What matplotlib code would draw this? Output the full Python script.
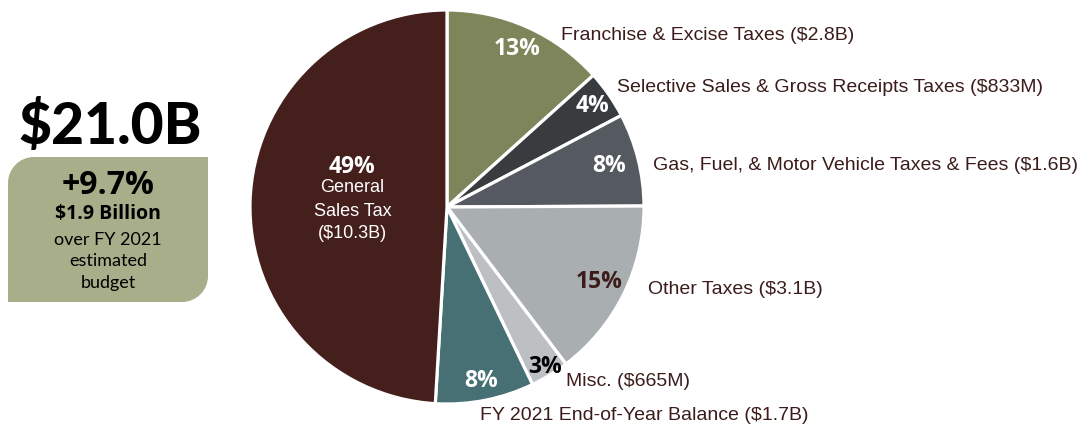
import numpy as np
import matplotlib
matplotlib.use("Agg")
import matplotlib.pyplot as plt
from matplotlib.path import Path
from matplotlib.patches import PathPatch

# Revenue sources, in billions of dollars (clockwise from 12 o'clock)
categories = [
    "Franchise & Excise Taxes",
    "Selective Sales & Gross Receipts Taxes",
    "Gas, Fuel, & Motor Vehicle Taxes & Fees",
    "Other Taxes",
    "Misc.",
    "FY 2021 End-of-Year Balance",
    "General Sales Tax",
]
values = [2.8, 0.833, 1.6, 3.1, 0.665, 1.7, 10.3]
amount_labels = ["$2.8B", "$833M", "$1.6B", "$3.1B", "$665M", "$1.7B", "$10.3B"]
colors = ["#7e855b", "#383c3f", "#545a60", "#a9aeb1", "#bcc0c3", "#467074", "#451f1c"]
pct_colors = ["white", "white", "white", "#3b1c1a", "black", "white", "white"]

total_label = "$21.0B"
growth_pct = "+9.7%"
growth_amount = "$1.9 Billion"
growth_note = ["over FY 2021", "estimated", "budget"]

W, H = 1084, 430
fig = plt.figure(figsize=(W / 100, H / 100), dpi=100)
ax = fig.add_axes([0, 0, 1, 1])

cx, cy, R = 447, 223, 197
wedges, _ = ax.pie(values, colors=colors, startangle=90, counterclock=False,
                   center=(cx, cy), radius=R, frame=False,
                   wedgeprops=dict(edgecolor="white", linewidth=2.3))
ax.set_xlim(0, W)
ax.set_ylim(0, H)
ax.set_aspect("auto")
ax.axis("off")

txt_font = ["Liberation Sans", "DejaVu Sans"]
pct_font = ["Open Sans", "DejaVu Sans"]
head_font = ["Lato", "DejaVu Sans"]
label_color = "#3b1c1a"

# Percentage labels inside each wedge
radial = [0.88, 0.90, 0.85, 0.86, 0.95, 0.90, 0.48]
total = sum(values)
for w, v, r, c in zip(wedges, values, radial, pct_colors):
    mid = np.deg2rad((w.theta1 + w.theta2) / 2)
    x = cx + r * R * np.cos(mid)
    y = cy + r * R * np.sin(mid)
    pct = f"{round(100 * v / total)}%"
    if w is wedges[-1]:
        y += 37
    ax.text(x, y, pct, color=c, fontsize=16.5, fontweight="bold",
            family=pct_font, ha="center", va="center")

# Largest slice carries its name inside
gx = cx + radial[-1] * R * np.cos(np.deg2rad((wedges[-1].theta1 + wedges[-1].theta2) / 2))
for i, line in enumerate(["General", "Sales Tax", f"({amount_labels[-1]})"]):
    ax.text(gx, 242 - i * 23, line, color="white", fontsize=13,
            family=txt_font, ha="center", va="center")

# Outside labels
outside_pos = [(561, 394), (617, 342), (653, 265), (648, 140), (566, 49), (480, 14)]
for name, amt, (x, y) in zip(categories[:-1], amount_labels[:-1], outside_pos):
    ax.text(x, y, f"{name} ({amt})", color=label_color, fontsize=14,
            family=txt_font, ha="left", va="center")

# Headline total
ax.text(110, 303, total_label, color="black", fontsize=41, fontweight="black",
        family=head_font, ha="center", va="center")

# Growth callout box: rounded top-left and bottom-right corners
x0, x1, yb, yt, rc = 8, 208, 128, 273, 26
k = 0.5523 * rc
verts = [
    (x0, yb), (x1 - rc, yb),
    (x1 - rc + k, yb), (x1, yb + rc - k), (x1, yb + rc),
    (x1, yt), (x0 + rc, yt),
    (x0 + rc - k, yt), (x0, yt - rc + k), (x0, yt - rc),
    (x0, yb),
]
codes = [Path.MOVETO, Path.LINETO,
         Path.CURVE4, Path.CURVE4, Path.CURVE4,
         Path.LINETO, Path.LINETO,
         Path.CURVE4, Path.CURVE4, Path.CURVE4,
         Path.CLOSEPOLY]
ax.add_patch(PathPatch(Path(verts, codes), facecolor="#a8ae8a", edgecolor="none"))

ax.text(108, 245, growth_pct, color="black", fontsize=23, fontweight="bold",
        family=pct_font, ha="center", va="center")
ax.text(108, 216, growth_amount, color="black", fontsize=14, fontweight="bold",
        family=pct_font, ha="center", va="center")
for i, line in enumerate(growth_note):
    ax.text(108, 190 - i * 21.5, line, color="black", fontsize=13,
            family=head_font, ha="center", va="center")

fig.savefig("out.png", dpi=100, facecolor="white")
